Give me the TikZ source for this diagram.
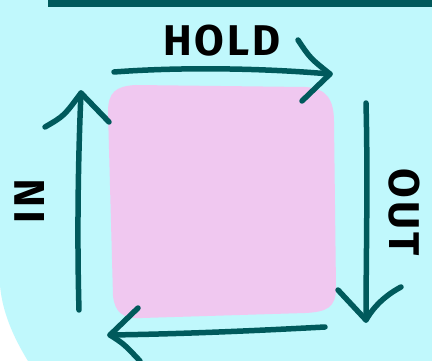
\documentclass[tikz,border=0pt]{standalone}
\usepackage{fontspec}
\setmainfont{Fira Sans}
\definecolor{bgcyan}{HTML}{C0F8FC}
\definecolor{pinkbox}{HTML}{F0C8F0}
\definecolor{darkteal}{HTML}{005A5C}
\begin{document}
\begin{tikzpicture}[x=1pt,y=-1pt,
  stroke/.style={draw=darkteal, line width=5.5pt, line cap=round, line join=round},
  lbl/.style={font=\fontsize{43}{43}\selectfont\addfontfeature{LetterSpace=7}, text=black, inner sep=0pt}]
\useasboundingbox (0,0) rectangle (432,361);
\fill[white] (0,0) rectangle (432,361);
\fill[bgcyan] (0,0) -- (432,0) -- (432,361) -- (28,361) .. controls (12,335) and (2,310) .. (0,285) -- cycle;
\fill[darkteal] (48,0) rectangle (432,7);
% pink box
\fill[pinkbox] (108,112) .. controls (108,92) and (116,86) .. (136,85) -- (305,87)
  .. controls (327,88) and (334,100) .. (334,122) -- (336,288)
  .. controls (336,308) and (326,312) .. (305,313) -- (142,318)
  .. controls (122,319) and (115,312) .. (113,296) -- cycle;
% named points
\coordinate (t0) at (114,72); \coordinate (t1) at (330,74);
\coordinate (r0) at (366,103); \coordinate (r1) at (366,320);
\coordinate (b0) at (325,327); \coordinate (b1) at (110,335);
\coordinate (l0) at (79,310); \coordinate (l1) at (81,93);
% top arrow
\draw[stroke] (t0) .. controls (180,67) and (260,68) .. (t1);
\draw[stroke] (298,40) .. controls (310,58) .. (t1) -- (302,101);
% right arrow
\draw[stroke] (r0) .. controls (368,180) and (366,260) .. (r1);
\draw[stroke] (338,290) -- (r1) .. controls (374,306) and (386,295) .. (401,287);
% bottom arrow
\draw[stroke] (b0) .. controls (250,331) and (180,334) .. (b1);
\draw[stroke] (138,308) -- (b1) .. controls (124,344) .. (140,361);
% left arrow
\draw[stroke] (l0) .. controls (77,240) and (78,160) .. (l1);
\draw[stroke] (45,127) .. controls (64,116) .. (l1) -- (109,122);
% labels
\node[lbl, font=\fontsize{43}{43}\selectfont\addfontfeature{LetterSpace=7}\bfseries] (hold) at (222,41) {HOLD};
\node[lbl, font=\fontsize{43}{43}\selectfont\addfontfeature{LetterSpace=7}\bfseries, rotate=-90] (out) at (404,212) {OUT};
\node[lbl, font=\fontsize{43}{43}\selectfont\addfontfeature{LetterSpace=7}\bfseries, rotate=90] (in) at (30,201) {IN};
\end{tikzpicture}
\end{document}
